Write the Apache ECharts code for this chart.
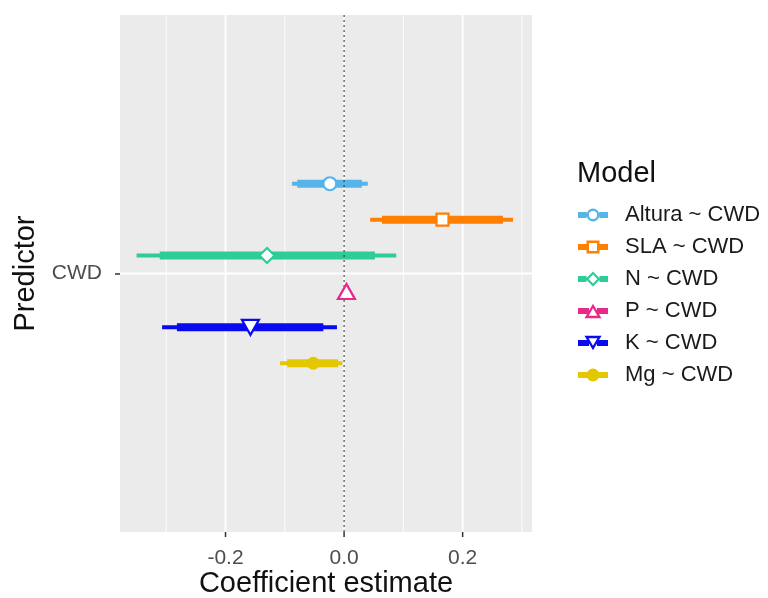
<!DOCTYPE html>
<html>
<head>
<meta charset="utf-8">
<script src="https://cdn.jsdelivr.net/npm/echarts@6/dist/echarts.min.js"></script>
<style>
  html, body { margin: 0; padding: 0; background: #ffffff; }
  #chart { width: 768px; height: 598px; }
</style>
</head>
<body>
<div id="chart"></div>
<script>
// Coefficient estimates of each trait model on CWD,
// with inner (thick) and outer (thin) credible intervals.
const models = ['Altura ~ CWD', 'SLA ~ CWD', 'N ~ CWD', 'P ~ CWD', 'K ~ CWD', 'Mg ~ CWD'];
const estimate  = [-0.024, 0.166, -0.130, 0.004, -0.158, -0.052];
const outerLow  = [-0.088, 0.044, -0.350, 0.000, -0.307, -0.108];
const outerHigh = [ 0.040, 0.285,  0.088, 0.008, -0.012, -0.003];
const innerLow  = [-0.079, 0.064, -0.311, 0.001, -0.282, -0.096];
const innerHigh = [ 0.030, 0.268,  0.052, 0.007, -0.035, -0.010];
const predictors = ['CWD'];
const xTickValues = [-0.2, 0, 0.2];
const xMinorValues = [-0.3, -0.1, 0.1, 0.3];

// Styling
const FONT = "'Liberation Sans', Arial, Helvetica, sans-serif";
const colors = ['#56B4E9', '#FF7F00', '#2ECC96', '#E7298A', '#0A0AEE', '#E3C800'];
const symbols = ['circle', 'rect', 'diamond', 'triangle', 'triangle', 'circle'];
const symbolRotate = [0, 0, 0, 0, 180, 0];
const symbolSizes = [13, 12, 15, [17, 15], [17, 15], 13];
const hollow = [true, true, true, true, true, false];

// Legend keys: point-range glyphs (bar + hollow shape), drawn as filled paths
const keyFrame = 'M0,0 L0,0 M30,16 L30,16 ';
const legendIcons = [
  'path://' + keyFrame +
    'M0,5 L8.6,5 L8.6,11 L0,11 Z M21.4,5 L30,5 L30,11 L21.4,11 Z ' +
    'M8.5,8 A6.5,6.5 0 1,1 21.5,8 A6.5,6.5 0 1,1 8.5,8 Z ' +
    'M10.9,8 A4.1,4.1 0 1,0 19.1,8 A4.1,4.1 0 1,0 10.9,8 Z',
  'path://' + keyFrame +
    'M0,5 L8.5,5 L8.5,11 L0,11 Z M21.5,5 L30,5 L30,11 L21.5,11 Z ' +
    'M8.5,1.5 L21.5,1.5 L21.5,14.5 L8.5,14.5 Z M11,4 L11,12 L19,12 L19,4 Z',
  'path://' + keyFrame +
    'M0,5 L8.5,5 L8.5,11 L0,11 Z M21.5,5 L30,5 L30,11 L21.5,11 Z ' +
    'M15,0.5 L22.5,8 L15,15.5 L7.5,8 Z M15,3.6 L10.6,8 L15,12.4 L19.4,8 Z',
  'path://' + keyFrame +
    'M0,5 L11,5 L11,11 L0,11 Z M19,5 L30,5 L30,11 L19,11 Z ' +
    'M15,0.8 L23.5,15.2 L6.5,15.2 Z M15,5.3 L10.6,12.8 L19.4,12.8 Z',
  'path://' + keyFrame +
    'M0,5 L11,5 L11,11 L0,11 Z M19,5 L30,5 L30,11 L19,11 Z ' +
    'M6.5,0.8 L23.5,0.8 L15,15.2 Z M10.6,3.2 L15,10.7 L19.4,3.2 Z',
  'path://' + keyFrame +
    'M0,5 L30,5 L30,11 L0,11 Z ' +
    'M8.5,8 A6.5,6.5 0 1,1 21.5,8 A6.5,6.5 0 1,1 8.5,8 Z'
];

// Dodged vertical position of each model around the predictor row
const dodgeWidth = 0.5;
function rowPosition(i) {
  return 1 + ((models.length - 1) / 2 - i) * (dodgeWidth / models.length);
}

function intervalRenderer(color) {
  return function (params, api) {
    const y = api.value(4);
    const o1 = api.coord([api.value(0), y]);
    const o2 = api.coord([api.value(1), y]);
    const i1 = api.coord([api.value(2), y]);
    const i2 = api.coord([api.value(3), y]);
    return {
      type: 'group',
      children: [
        { type: 'line', shape: { x1: o1[0], y1: o1[1], x2: o2[0], y2: o2[1] },
          style: { stroke: color, lineWidth: 4, lineCap: 'butt' } },
        { type: 'line', shape: { x1: i1[0], y1: i1[1], x2: i2[0], y2: i2[1] },
          style: { stroke: color, lineWidth: 8, lineCap: 'butt' } }
      ]
    };
  };
}

const series = [];

// Panel grid: vertical major/minor lines, plus tick marks under the major ones
series.push({
  type: 'custom', name: 'vgrid', silent: true, z: 0, clip: false,
  data: xTickValues.map(v => [v, 1, 1]).concat(xMinorValues.map(v => [v, 1, 0])),
  encode: { x: 0, y: 1 },
  renderItem: function (params, api) {
    const cs = params.coordSys;
    const p = api.coord([api.value(0), 1]);
    const major = api.value(2) === 1;
    const bottom = cs.y + cs.height;
    const children = [{ type: 'line',
      shape: { x1: p[0], y1: cs.y, x2: p[0], y2: bottom },
      style: { stroke: '#ffffff', lineWidth: major ? 1.8 : 0.9 } }];
    if (major) {
      children.push({ type: 'line',
        shape: { x1: p[0], y1: bottom, x2: p[0], y2: bottom + 5 },
        style: { stroke: '#333333', lineWidth: 1.5 } });
    }
    return { type: 'group', children: children };
  }
});
// Panel grid: horizontal line at each predictor
series.push({
  type: 'custom', name: 'hgrid', silent: true, z: 0,
  data: predictors.map((p, k) => [0, k + 1]),
  encode: { x: 0, y: 1 },
  renderItem: function (params, api) {
    const cs = params.coordSys;
    const p = api.coord([0, api.value(1)]);
    return { type: 'line',
      shape: { x1: cs.x, y1: p[1], x2: cs.x + cs.width, y2: p[1] },
      style: { stroke: '#ffffff', lineWidth: 1.8 } };
  }
});

// Interval lines per model
models.forEach((m, i) => {
  series.push({
    type: 'custom', name: m, z: 2,
    data: [[outerLow[i], outerHigh[i], innerLow[i], innerHigh[i], rowPosition(i)]],
    encode: { x: [0, 1, 2, 3], y: 4 },
    renderItem: intervalRenderer(colors[i])
  });
});

// Zero reference line
series.push({
  type: 'custom', name: 'zero', silent: true, z: 3,
  data: [[0, 1]],
  encode: { x: 0, y: 1 },
  renderItem: function (params, api) {
    const cs = params.coordSys;
    const p = api.coord([api.value(0), 1]);
    return { type: 'line',
      shape: { x1: p[0], y1: cs.y, x2: p[0], y2: cs.y + cs.height },
      style: { stroke: '#333333', lineWidth: 1.1, lineDash: [2, 3] } };
  }
});

// Point estimates per model
models.forEach((m, i) => {
  series.push({
    type: 'scatter', name: m, z: 4,
    symbol: symbols[i], symbolRotate: symbolRotate[i], symbolSize: symbolSizes[i],
    data: [[estimate[i], rowPosition(i)]],
    itemStyle: hollow[i]
      ? { color: '#ffffff', borderColor: colors[i], borderWidth: 2.2, opacity: 1 }
      : { color: colors[i], borderWidth: 0, opacity: 1 },
    emphasis: { disabled: true }
  });
});

const chart = echarts.init(document.getElementById('chart'), null, { renderer: 'canvas' });
chart.setOption({
  animation: false,
  backgroundColor: '#ffffff',
  title: {
    text: 'Model', left: 577, top: 159, padding: 0,
    textStyle: { fontFamily: FONT, fontSize: 29, fontWeight: 'normal', color: '#111111' }
  },
  legend: {
    orient: 'vertical', left: 578, top: 204, padding: 0,
    itemWidth: 30, itemHeight: 16, itemGap: 10,
    textStyle: { fontFamily: FONT, fontSize: 22, color: '#1a1a1a', lineHeight: 22, padding: [0, 0, 0, 12] },
    data: models.map((m, i) => ({
      name: m, icon: legendIcons[i],
      itemStyle: { color: colors[i], borderWidth: 0, opacity: 1 }
    }))
  },
  grid: {
    left: 120, right: 236, top: 15, bottom: 66,
    containLabel: false, outerBoundsMode: 'none',
    show: true, backgroundColor: '#ebebeb', borderWidth: 0
  },
  xAxis: {
    type: 'value', min: -0.378, max: 0.317,
    name: 'Coefficient estimate', nameLocation: 'middle', nameGap: 37, nameMoveOverlap: false,
    nameTextStyle: { fontFamily: FONT, fontSize: 29, color: '#111111' },
    axisLine: { show: false, onZero: false },
    axisTick: { show: false },
    axisLabel: { customValues: xTickValues, margin: 16,
      formatter: v => v.toFixed(1),
      fontFamily: FONT, fontSize: 21, color: '#4d4d4d' },
    splitLine: { show: false }
  },
  yAxis: {
    type: 'value', min: 0.4, max: 1.6,
    name: 'Predictor', nameLocation: 'middle', nameGap: 80, nameRotate: 90, nameMoveOverlap: false,
    nameTextStyle: { fontFamily: FONT, fontSize: 29, color: '#111111' },
    axisLine: { show: false, onZero: false },
    axisTick: { show: true, customValues: [1], length: 5,
      lineStyle: { color: '#333333', width: 1.5 } },
    axisLabel: { customValues: predictors.map((p, k) => k + 1), margin: 18,
      formatter: v => predictors[Math.round(v) - 1] || '',
      fontFamily: FONT, fontSize: 21, color: '#4d4d4d' },
    splitLine: { show: false }
  },
  series: series
});
</script>
</body>
</html>
